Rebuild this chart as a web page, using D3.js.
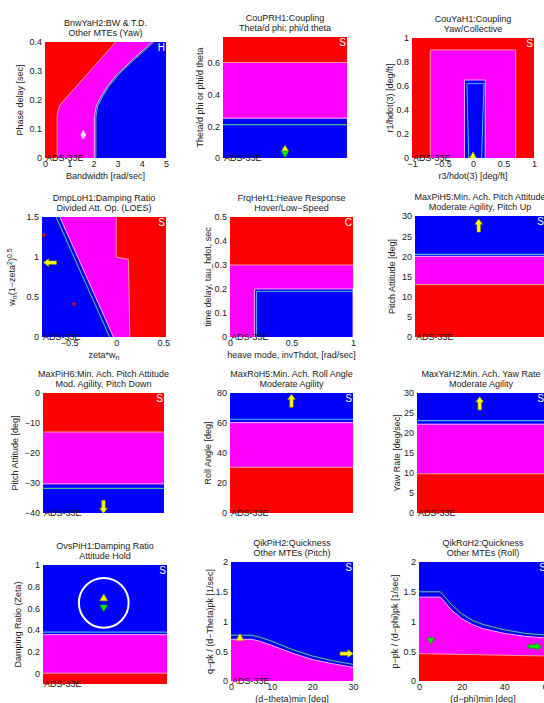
<!DOCTYPE html>
<html><head><meta charset="utf-8">
<script src="https://cdn.jsdelivr.net/npm/d3@7"></script>
<style>
body{margin:0;background:#fff}
text{font-family:"Liberation Sans",Arial,sans-serif;font-size:9px;fill:#222}
</style></head><body>
<svg id="svg" width="544" height="703"></svg>
<script>
// ---------- data ----------
// BnwYaH2 (bandwidth vs phase delay)
const bnwXTicks = [0, 1, 2, 3, 4, 5]
const bnwYTicks = [0, 0.1, 0.2, 0.3, 0.4]
const bnwYaL2 = [[0.5, 0], [0.5, 0.15], [0.6, 0.18], [0.8, 0.2], [2.93, 0.4]]
const bnwYaL1 = [[2.04, 0], [2.04, 0.14], [2.12, 0.18], [2.3, 0.21], [2.6, 0.25], [3.0, 0.29], [3.5, 0.33], [4.42, 0.4]]
const bnwYaLine = [[2.1, 0], [2.1, 0.14], [2.18, 0.18], [2.36, 0.21], [2.66, 0.25], [3.06, 0.29], [3.56, 0.33], [4.5, 0.4]]
const bnwYaPt = [1.58, 0.08]

// CouPRH1
const couPRYTicks = [0, 0.2, 0.4, 0.6]
const couPRCuts = [0, 0.25, 0.6, 0.76]
const couPRLine = 0.21
const couPRUp = [0.5, 0.055]
const couPRDn = [0.5, 0.03]

// CouYaH1
const couYaXTicks = [-1, -0.5, 0, 0.5, 1]
const couYaYTicks = [0, 0.2, 0.4, 0.6, 0.8, 1]
const couYaL2 = [[-0.7, 0], [-0.7, 0.9], [0.7, 0.9], [0.7, 0]]
const couYaL1 = [[-0.14, 0], [-0.14, 0.65], [0.2, 0.65], [0.2, 0]]
const couYaLine = [[-0.07, 0], [-0.1, 0.62], [0.18, 0.62], [0.14, 0]]
const couYaPt = [0, 0.015]

// DmpLoH1
const dmpXTicks = [-0.5, 0, 0.5]
const dmpYTicks = [0, 0.5, 1, 1.5]
const dmpLoL2 = [[0, 1.5], [0, 1.0], [0.13, 0.97], [0.145, 0]]
const dmpLoL1 = [[-0.6, 1.5], [-0.03, 0]]
const dmpLoLine = [[-0.64, 1.5], [-0.07, 0]]
const dmpLoPts = [[-0.77, 1.275], [-0.45, 0.41]]
const dmpLoArrow = [-0.7, 0.93]

// FrqHeH1
const frqXTicks = [0, 0.5, 1]
const frqYTicks = [0, 0.1, 0.2, 0.3, 0.4, 0.5]
const frqHeCut = 0.3
const frqHeL1 = [[0.2, 0], [0.2, 0.2], [1, 0.2], [1, 0]]
const frqHeLine = [[0.215, 0], [0.215, 0.19], [1, 0.19]]

// MaxPiH5
const maxPi5YTicks = [0, 5, 10, 15, 20, 25, 30]
const maxPi5Cuts = [0, 13, 20, 30]
const maxPi5Line = 20.5
const maxPi5Arrow = [0.49, 27.5]

// MaxPiH6
const maxPi6YTicks = [-40, -30, -20, -10, 0]
const maxPi6Cuts = [0, -13, -30.3, -40]
const maxPi6Line = -31.8
const maxPi6Arrow = [0.5, -37.8]

// MaxRoH5
const maxRoYTicks = [0, 20, 40, 60, 80]
const maxRoCuts = [0, 30.5, 60.2, 80]
const maxRoLine = 62.5
const maxRoArrow = [0.5, 74.5]

// MaxYaH2
const maxYaYTicks = [0, 5, 10, 15, 20, 25, 30]
const maxYaCuts = [0, 9.8, 22.2, 30]
const maxYaLine = 23.1
const maxYaArrow = [0.49, 27.3]

// OvsPiH1
const ovsYTicks = [0, 0.2, 0.4, 0.6, 0.8, 1]
const ovsCuts = [-0.1, 0, 0.356, 1]
const ovsLine = 0.38
const ovsUp = [0.49, 0.69]
const ovsDn = [0.49, 0.61]
const ovsCircle = [0.49, 0.65, 0.23] // centre x, centre y, radius (y units)

// QikPiH2
const qikPiXTicks = [0, 10, 20, 30]
const qikPiYTicks = [0, 0.5, 1, 1.5, 2]
const qikPiL1 = [[0, 0.7], [5, 0.7], [7, 0.67], [10, 0.6], [15, 0.47], [20, 0.36], [25, 0.29], [30, 0.23]]
const qikPiLine = [[0, 0.77], [5, 0.77], [7, 0.74], [10, 0.67], [15, 0.53], [20, 0.42], [25, 0.34], [30, 0.28]]
const qikPiUp = [2.2, 0.72]
const qikPiArrow = [28.3, 0.46]

// QikRoH2
const qikRoXTicks = [0, 20, 40, 60]
const qikRoYTicks = [0, 0.5, 1, 1.5, 2]
const qikRoL3 = [[0, 0.46], [60, 0.42]]
const qikRoL1 = [[0, 1.41], [10, 1.41], [12, 1.33], [15, 1.2], [20, 1.05], [25, 0.95], [30, 0.88], [40, 0.8], [50, 0.75], [60, 0.72]]
const qikRoLine = [[0, 1.5], [10, 1.5], [12, 1.42], [15, 1.29], [20, 1.13], [25, 1.02], [30, 0.95], [40, 0.86], [50, 0.8], [60, 0.77]]
const qikRoDn = [5.5, 0.69]
const qikRoArrow = [54, 0.58]

// ---------- drawing ----------
const RED = '#ff0000', MAG = '#ff00ff', BLUE = '#0000ff'
const L2LINE = '#ff9a9a', L1EDGE = '#ffa8ff', L1LINE = '#4cb4e6'
const svg = d3.select('#svg')
let clipN = 0

function makePanel(box, xd, yd) {
  const [l, t, r, b] = box
  const x = d3.scaleLinear().domain(xd).range([l, r])
  const y = d3.scaleLinear().domain(yd).range([b, t])
  const id = 'clip' + (++clipN)
  svg.append('clipPath').attr('id', id)
    .append('rect').attr('x', l).attr('y', t).attr('width', r - l).attr('height', b - t)
  const g = svg.append('g')
  const plot = g.append('g').attr('clip-path', `url(#${id})`)
  return { x, y, g, plot, box }
}

const lineOf = p => d3.line().x(d => p.x(d[0])).y(d => p.y(d[1]))

function fillAll(p, color) {
  const [l, t, r, b] = p.box
  p.plot.append('rect').attr('x', l).attr('y', t).attr('width', r - l).attr('height', b - t).attr('fill', color)
}
function poly(p, pts, color) {
  p.plot.append('path').attr('d', lineOf(p)(pts) + 'Z').attr('fill', color)
}
function strokeLine(p, pts, color, w) {
  p.plot.append('path').attr('d', lineOf(p)(pts)).attr('fill', 'none')
    .attr('stroke', color).attr('stroke-width', w || 1)
}
function bands(p, cuts, colors) {
  const xd = p.x.domain()
  for (let i = 0; i < colors.length; i++) {
    const y0 = p.y(cuts[i]), y1 = p.y(cuts[i + 1])
    p.plot.append('rect').attr('x', p.x(xd[0])).attr('width', p.x(xd[1]) - p.x(xd[0]))
      .attr('y', Math.min(y0, y1)).attr('height', Math.abs(y1 - y0)).attr('fill', colors[i])
  }
}
function hline(p, v, color, w) {
  const xd = p.x.domain()
  strokeLine(p, [[xd[0], v], [xd[1], v]], color, w)
}
function arrow(p, pt, dir, color, edge) {
  const shape = [[0, -7], [3.8, -1.8], [1.7, -1.8], [1.7, 6], [-1.7, 6], [-1.7, -1.8], [-3.8, -1.8]]
  const rot = { up: 0, right: 90, down: 180, left: 270 }[dir]
  p.plot.append('path').attr('d', 'M' + shape.join('L') + 'Z')
    .attr('transform', `translate(${p.x(pt[0])},${p.y(pt[1])}) rotate(${rot})`)
    .attr('fill', color).attr('stroke', edge).attr('stroke-width', 0.6)
}
function marker(p, pt, type, size, color, edge, rot) {
  p.plot.append('path').attr('d', d3.symbol(type, size)())
    .attr('transform', `translate(${p.x(pt[0])},${p.y(pt[1])}) rotate(${rot || 0})`)
    .attr('fill', color).attr('stroke', edge || 'none').attr('stroke-width', 0.6)
}

function decorate(p, o) {
  const [l, t, r, b] = p.box
  const fmt = d3.format('~g')
  // flag letter
  p.g.append('text').attr('x', r - 1).attr('y', t + 9).attr('text-anchor', 'end')
    .style('fill', '#fff').style('font-size', '10px').text(o.flag || 'S')
  if (o.ads !== false) {
    p.g.append('text').attr('x', l + 1).attr('y', b).attr('dy', '0.35em')
      .style('fill', '#111').text('ADS-33E')
  }
  // axes
  const ya = p.g.append('g').attr('transform', `translate(${l},0)`)
    .call(d3.axisLeft(p.y).tickValues(o.yTicks).tickSize(0).tickPadding(3).tickFormat(fmt))
  ya.select('.domain').remove()
  if (o.xTicks) {
    const xa = p.g.append('g').attr('transform', `translate(0,${b})`)
      .call(d3.axisBottom(p.x).tickValues(o.xTicks).tickSize(0).tickPadding(3).tickFormat(fmt))
    xa.select('.domain').remove()
  }
  p.g.selectAll('.tick text').attr('font-size', null).attr('font-family', null)
  p.g.selectAll('g').attr('font-size', null).attr('font-family', null)
  // title
  const cx = (l + r) / 2
  p.g.append('text').attr('x', cx).attr('y', t - 16).attr('text-anchor', 'middle').text(o.title[0])
  p.g.append('text').attr('x', cx).attr('y', t - 6).attr('text-anchor', 'middle').text(o.title[1])
  // labels
  if (o.xlabel) {
    const tx = p.g.append('text').attr('x', cx).attr('y', b + 21).attr('text-anchor', 'middle')
    if (typeof o.xlabel === 'string') tx.text(o.xlabel); else o.xlabel(tx)
  }
  const ty = p.g.append('text').attr('text-anchor', 'middle')
    .attr('transform', `translate(${o.ylabX + 3},${(t + b) / 2}) rotate(-90)`)
  if (typeof o.ylabel === 'string') ty.text(o.ylabel); else o.ylabel(ty)
}

// 1. BnwYaH2
{
  const p = makePanel([45, 42, 166, 158], [0, 5], [0, 0.4])
  fillAll(p, RED)
  poly(p, bnwYaL2.concat([[5, 0.4], [5, 0]]), MAG)
  poly(p, bnwYaL1.concat([[5, 0.4], [5, 0]]), BLUE)
  strokeLine(p, bnwYaL2, L2LINE, 1)
  strokeLine(p, bnwYaLine, '#1a1aa0', 2.5)
  strokeLine(p, bnwYaL1, L1EDGE, 1)
  strokeLine(p, bnwYaLine, L1LINE, 1)
  marker(p, bnwYaPt, d3.symbolDiamond, 22, '#ffd0f0', '#ffffff')
  decorate(p, { title: ['BnwYaH2:BW & T.D.', 'Other MTEs (Yaw)'], flag: 'H',
    xTicks: bnwXTicks, yTicks: bnwYTicks, xlabel: 'Bandwidth [rad/sec]', ylabel: 'Phase delay [sec]', ylabX: 20 })
}
// 2. CouPRH1
{
  const p = makePanel([223, 37, 347, 158], [0, 1], [0, 0.76])
  bands(p, couPRCuts, [BLUE, MAG, RED])
  hline(p, couPRCuts[2], L2LINE, 1)
  hline(p, couPRCuts[1], L1EDGE, 1)
  hline(p, couPRLine, '#3cc08c', 1.2)
  marker(p, couPRUp, d3.symbolTriangle, 22, '#ffff00', '#aaaa00')
  marker(p, couPRDn, d3.symbolTriangle, 26, '#00ee00', '#008800', 180)
  decorate(p, { title: ['CouPRH1:Coupling', 'Theta/d phi; phi/d theta'],
    yTicks: couPRYTicks, ylabel: 'Theta/d phi or phi/d theta', ylabX: 200 })
}
// 3. CouYaH1
{
  const p = makePanel([412, 38, 534, 158], [-1, 1], [0, 1])
  fillAll(p, RED)
  poly(p, couYaL2, MAG)
  poly(p, couYaL1, BLUE)
  strokeLine(p, couYaL2, L2LINE, 1)
  strokeLine(p, couYaL1, L1EDGE, 1)
  strokeLine(p, couYaLine, L1LINE, 1)
  marker(p, couYaPt, d3.symbolTriangle, 22, '#ffff00', '#aaaa00')
  decorate(p, { title: ['CouYaH1:Coupling', 'Yaw/Collective'],
    xTicks: couYaXTicks, yTicks: couYaYTicks, xlabel: 'r3/hdot(3) [deg/ft]', ylabel: 'r1/hdot(3)  [deg/ft]', ylabX: 390 })
}
// 4. DmpLoH1
{
  const p = makePanel([42, 217, 166, 337], [-0.79, 0.53], [0, 1.5])
  const [x0, x1] = p.x.domain()
  fillAll(p, MAG)
  poly(p, [[x0, 1.5]].concat(dmpLoL1, [[x0, 0]]), BLUE)
  poly(p, dmpLoL2.concat([[x1, 0], [x1, 1.5]]), RED)
  strokeLine(p, dmpLoL2, L2LINE, 1)
  strokeLine(p, dmpLoLine, '#1a1aa0', 2.5)
  strokeLine(p, dmpLoL1, L1EDGE, 1)
  strokeLine(p, dmpLoLine, L1LINE, 1)
  dmpLoPts.forEach(d => marker(p, d, d3.symbolStar, 10, '#e01010'))
  arrow(p, dmpLoArrow, 'left', '#ffff00', '#aaaa00')
  decorate(p, { title: ['DmpLoH1:Damping Ratio', 'Divided Att. Op. (LOES)'],
    xTicks: dmpXTicks, yTicks: dmpYTicks, ylabX: 12,
    xlabel: t => { t.append('tspan').text('zeta*w'); t.append('tspan').attr('dy', 2).style('font-size', '7px').text('n') },
    ylabel: t => {
      t.append('tspan').text('w')
      t.append('tspan').attr('dy', 2).style('font-size', '7px').text('n')
      t.append('tspan').attr('dy', -2).text('(1\u2212zeta')
      t.append('tspan').attr('dy', -3).style('font-size', '7px').text('2')
      t.append('tspan').attr('dy', 3).text(')')
      t.append('tspan').attr('dy', -3).style('font-size', '7px').text('0.5')
    } })
}
// 5. FrqHeH1
{
  const p = makePanel([230, 217, 353, 337], [0, 1], [0, 0.5])
  bands(p, [0, frqHeCut, 0.5], [MAG, RED])
  poly(p, frqHeL1, BLUE)
  hline(p, frqHeCut, L2LINE, 1)
  strokeLine(p, frqHeL1, L1EDGE, 1)
  strokeLine(p, frqHeLine, L1LINE, 1)
  decorate(p, { title: ['FrqHeH1:Heave Response', 'Hover/Low\u2212Speed'], flag: 'C',
    xTicks: frqXTicks, yTicks: frqYTicks, xlabel: 'heave mode, invThdot, [rad/sec]', ylabel: 'time delay, tau_hdot, sec', ylabX: 208 })
}
// 6. MaxPiH5
{
  const p = makePanel([415, 216, 545, 337], [0, 1], [0, 30])
  bands(p, maxPi5Cuts, [RED, MAG, BLUE])
  hline(p, maxPi5Cuts[1], L2LINE, 1)
  hline(p, maxPi5Cuts[2], L1EDGE, 1)
  hline(p, maxPi5Line, L1LINE, 1.2)
  arrow(p, maxPi5Arrow, 'up', '#ffff00', '#aaaa00')
  decorate(p, { title: ['MaxPiH5:Min. Ach. Pitch Attitude', 'Moderate Agility, Pitch Up'],
    yTicks: maxPi5YTicks, ylabel: 'Pitch Attitude [deg]', ylabX: 392 })
}
// 7. MaxPiH6
{
  const p = makePanel([43, 393, 164, 513], [0, 1], [-40, 0])
  bands(p, maxPi6Cuts, [RED, MAG, BLUE])
  hline(p, maxPi6Cuts[1], L2LINE, 1)
  hline(p, maxPi6Cuts[2], L1EDGE, 1)
  hline(p, maxPi6Line, '#3cc08c', 1.2)
  arrow(p, maxPi6Arrow, 'down', '#ffff00', '#aaaa00')
  decorate(p, { title: ['MaxPiH6:Min. Ach. Pitch Attitude', 'Mod. Agility, Pitch Down'],
    yTicks: maxPi6YTicks, ylabel: 'Pitch Attitude [deg]', ylabX: 15 })
}
// 8. MaxRoH5
{
  const p = makePanel([230, 393, 353, 513], [0, 1], [0, 80])
  bands(p, maxRoCuts, [RED, MAG, BLUE])
  hline(p, maxRoCuts[1], L2LINE, 1)
  hline(p, maxRoCuts[2], L1EDGE, 1)
  hline(p, maxRoLine, L1LINE, 1.2)
  arrow(p, maxRoArrow, 'up', '#ffff00', '#aaaa00')
  decorate(p, { title: ['MaxRoH5:Min. Ach. Roll Angle', 'Moderate Agility'],
    yTicks: maxRoYTicks, ylabel: 'Roll Angle [deg]', ylabX: 208 })
}
// 9. MaxYaH2
{
  const p = makePanel([417, 393, 545, 513], [0, 1], [0, 30])
  bands(p, maxYaCuts, [RED, MAG, BLUE])
  hline(p, maxYaCuts[1], L2LINE, 1)
  hline(p, maxYaCuts[2], L1EDGE, 1)
  hline(p, maxYaLine, L1LINE, 1.2)
  arrow(p, maxYaArrow, 'up', '#ffff00', '#aaaa00')
  decorate(p, { title: ['MaxYaH2:Min. Ach. Yaw Rate', 'Moderate Agility'],
    yTicks: maxYaYTicks, ylabel: 'Yaw Rate [deg/sec]', ylabX: 397 })
}
// 10. OvsPiH1
{
  const p = makePanel([43, 565, 167, 684], [0, 1], [-0.1, 1])
  bands(p, ovsCuts, [RED, MAG, BLUE])
  hline(p, ovsCuts[1], L2LINE, 1)
  hline(p, ovsCuts[2], L1EDGE, 1)
  hline(p, ovsLine, L1LINE, 1.2)
  p.plot.append('circle').attr('cx', p.x(ovsCircle[0])).attr('cy', p.y(ovsCircle[1]))
    .attr('r', p.y(ovsCircle[1] - ovsCircle[2]) - p.y(ovsCircle[1]))
    .attr('fill', 'none').attr('stroke', '#fff').attr('stroke-width', 2)
  marker(p, ovsUp, d3.symbolTriangle, 26, '#ffff00', '#aaaa00')
  marker(p, ovsDn, d3.symbolTriangle, 26, '#00ee00', '#008800', 180)
  decorate(p, { title: ['OvsPiH1:Damping Ratio', 'Attitude Hold'],
    yTicks: ovsYTicks, ylabel: 'Damping Ratio (Zeta)', ylabX: 18 })
}
// 11. QikPiH2
{
  const p = makePanel([231, 562, 353, 681], [0, 30], [0, 2])
  fillAll(p, BLUE)
  poly(p, qikPiL1.concat([[30, 0], [0, 0]]), MAG)
  strokeLine(p, qikPiLine, '#1a1aa0', 2.5)
  strokeLine(p, qikPiL1, L1EDGE, 1)
  strokeLine(p, qikPiLine, L1LINE, 1)
  marker(p, qikPiUp, d3.symbolTriangle, 26, '#ffff00', '#aaaa00')
  arrow(p, qikPiArrow, 'right', '#ffff00', '#aaaa00')
  decorate(p, { title: ['QikPiH2:Quickness', 'Other MTEs (Pitch)'],
    xTicks: qikPiXTicks, yTicks: qikPiYTicks, xlabel: '(d\u2212theta)min  [deg]',
    ylabel: 'q\u2212pk / (d\u2212Theta)pk   [1/sec]', ylabX: 210 })
}
// 12. QikRoH2
{
  const p = makePanel([419, 562, 547, 681], [0, 60], [0, 2])
  fillAll(p, BLUE)
  poly(p, qikRoL1.concat([[60, 0], [0, 0]]), MAG)
  poly(p, qikRoL3.concat([[60, 0], [0, 0]]), RED)
  strokeLine(p, qikRoL3, L2LINE, 1)
  strokeLine(p, qikRoLine, '#1a1aa0', 2.5)
  strokeLine(p, qikRoL1, L1EDGE, 1)
  strokeLine(p, qikRoLine, L1LINE, 1)
  marker(p, qikRoDn, d3.symbolTriangle, 26, '#00ee00', '#008800', 180)
  arrow(p, qikRoArrow, 'right', '#00ee00', '#008800')
  decorate(p, { title: ['QikRoH2:Quickness', 'Other MTEs (Roll)'], ads: false,
    xTicks: qikRoXTicks, yTicks: qikRoYTicks, xlabel: '(d\u2212phi)min [deg]',
    ylabel: 'p\u2212pk / (d\u2212phi)pk  [1/sec]', ylabX: 395 })
}
</script>
</body></html>
